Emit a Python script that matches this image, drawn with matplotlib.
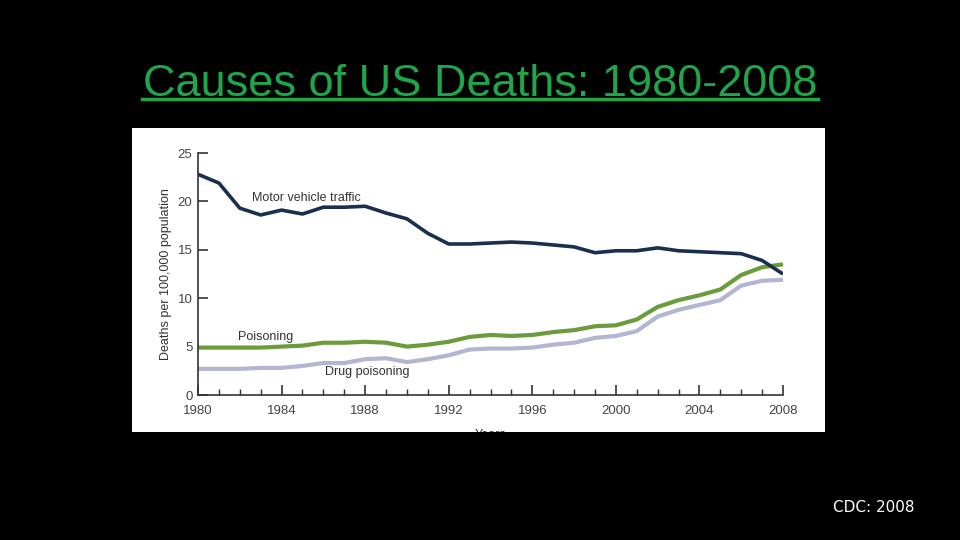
import matplotlib.pyplot as plt
from matplotlib.patches import Rectangle

years = list(range(1980, 2009))
motor_vehicle = [22.8, 21.9, 19.3, 18.6, 19.1, 18.7, 19.4, 19.4, 19.5, 18.8,
                 18.2, 16.7, 15.6, 15.6, 15.7, 15.8, 15.7, 15.5, 15.3, 14.7,
                 14.9, 14.9, 15.2, 14.9, 14.8, 14.7, 14.6, 13.9, 12.5]
poisoning = [4.9, 4.9, 4.9, 4.9, 5.0, 5.1, 5.4, 5.4, 5.5, 5.4,
             5.0, 5.2, 5.5, 6.0, 6.2, 6.1, 6.2, 6.5, 6.7, 7.1,
             7.2, 7.8, 9.1, 9.8, 10.3, 10.9, 12.4, 13.2, 13.5]
drug_poisoning = [2.7, 2.7, 2.7, 2.8, 2.8, 3.0, 3.3, 3.3, 3.7, 3.8,
                  3.4, 3.7, 4.1, 4.7, 4.8, 4.8, 4.9, 5.2, 5.4, 5.9,
                  6.1, 6.6, 8.1, 8.8, 9.3, 9.8, 11.3, 11.8, 11.9]
x_ticks = [1980, 1984, 1988, 1992, 1996, 2000, 2004, 2008]
y_ticks = [0, 5, 10, 15, 20, 25]

fig = plt.figure(figsize=(9.6, 5.4), dpi=100, facecolor='black')

# white panel behind the chart
panel = Rectangle((132 / 960, 1 - 432 / 540), (825 - 132) / 960, (432 - 128) / 540,
                  transform=fig.transFigure, facecolor='white', edgecolor='none', zorder=-5)
fig.add_artist(panel)

ax = fig.add_axes([198 / 960, 1 - 395 / 540, (783 - 198) / 960, (395 - 153) / 540])
ax.set_zorder(2)
ax.patch.set_alpha(0)
ax.plot(years, drug_poisoning, color='#b3b6d3', linewidth=3, solid_capstyle='butt')
ax.plot(years, poisoning, color='#6b9c3c', linewidth=3, solid_capstyle='butt')
ax.plot(years, motor_vehicle, color='#1a2e4e', linewidth=2.6, solid_capstyle='butt')

ax.set_xlim(1980, 2008)
ax.set_ylim(0, 25)
ax.set_xticks(x_ticks)
ax.set_xticks(years, minor=True)
ax.set_yticks(y_ticks)
for s in ['top', 'right']:
    ax.spines[s].set_visible(False)
for s in ['left', 'bottom']:
    ax.spines[s].set_color('#333333')
    ax.spines[s].set_linewidth(1.2)
ax.tick_params(axis='both', which='major', direction='in', length=7, width=1.2,
               color='#333333', labelsize=9.5, labelcolor='#444444')
ax.tick_params(axis='x', which='major', pad=7)
ax.tick_params(axis='y', which='major', pad=4)
ax.tick_params(axis='x', which='minor', direction='in', length=4, width=1, color='#333333')
for lab in ax.get_xticklabels() + ax.get_yticklabels():
    lab.set_family('Liberation Sans')

ax.set_ylabel('Deaths per 100,000 population', fontsize=9, color='#333333',
              family='Liberation Sans')
ax.yaxis.set_label_coords(-0.044, 0.5)

ax.text(1982.6, 20.3, 'Motor vehicle traffic', fontsize=9, color='#333333',
        family='Liberation Sans', va='center')
ax.text(1981.9, 6.0, 'Poisoning', fontsize=9, color='#333333',
        family='Liberation Sans', va='center')
ax.text(1986.1, 2.4, 'Drug poisoning', fontsize=9, color='#333333',
        family='Liberation Sans', va='center')

years_lbl = fig.text(491 / 960, 1 - 441 / 540, 'Years', fontsize=9, color='#333333',
                     family='Liberation Sans', ha='center', va='bottom', zorder=-4)
years_lbl.set_clip_path(panel)

fig.text(480 / 960, 1 - 96 / 540, 'Causes of US Deaths: 1980-2008', fontsize=32.5,
         color='#1fa64a', family='Liberation Sans', ha='center', va='baseline')
fig.add_artist(plt.Line2D([142 / 960, 818 / 960], [1 - 99 / 540, 1 - 99 / 540],
                          color='#1fa64a', linewidth=2.5))

fig.text(874 / 960, 1 - 508 / 540, 'CDC: 2008', fontsize=11, color='white',
         family='DejaVu Sans', ha='center', va='center')

fig.savefig('out.png', dpi=100, facecolor='black')
